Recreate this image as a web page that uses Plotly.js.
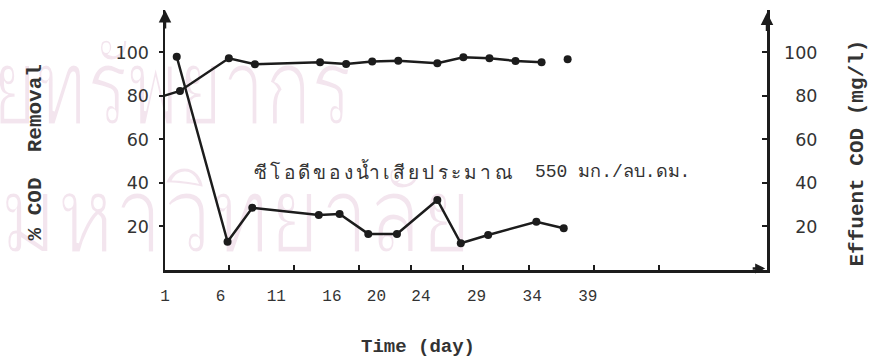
<!DOCTYPE html>
<html>
<head>
<meta charset="utf-8">
<script src="https://cdn.plot.ly/plotly-3.0.1.min.js"></script>
<style>html,body{margin:0;padding:0;background:#fff;}</style>
</head>
<body>
<div id="chart" style="width:874px;height:358px;"></div>
<script>
// ---- data ----
const removalDays = [1, 2.25, 6, 8, 13, 15, 17, 19, 22, 24, 26, 28, 30];
const removalPct  = [80, 82.3, 97.3, 94.6, 95.5, 94.7, 95.8, 96.2, 95.0, 97.8, 97.3, 96.1, 95.5];
const removalLoneDay = [32];
const removalLonePct = [96.9];
const effluentDays = [2, 5.9, 7.8, 12.9, 14.5, 16.7, 18.9, 22, 23.8, 25.9, 29.6, 31.7];
const effluentCod  = [98, 13, 28.6, 25.3, 25.7, 16.6, 16.6, 32.2, 12.3, 16.1, 22.2, 19.2];
const dayTicks = [1, 6, 11, 16, 20, 24, 29, 34, 39];
const dayTickLabels = ['1', '6', '11', '16', '20', '24', '29', '34', '39'];
const yTicks = [20, 40, 60, 80, 100];
const yTickLabels = ['20', '40', '60', '80', '100'];
const xTitle = 'Time (day)';
const yLeftTitle = '% COD\u00a0 Removal';
const yRightTitle = 'Effuent COD (mg/l)';
const noteThai = 'ซีโอดีของน้ำเสียประมาณ';
const noteValue = '550 มก./ลบ.ดม.';
const watermarkTop = 'ยทรัพยากร';
const watermarkBottom = 'มหาวิทยาลัย';

const ink = '#1c1c1c';
const textInk = '#333';
const markerSizes = removalDays.map((d, i) => i === 0 ? 0 : 8);

const traces = [
  {x: removalDays, y: removalPct, type: 'scatter', mode: 'lines+markers',
   line: {color: ink, width: 2.5}, marker: {color: ink, size: markerSizes, opacity: 1, line: {width: 0}},
   xaxis: 'x', yaxis: 'y', showlegend: false, hoverinfo: 'skip'},
  {x: removalLoneDay, y: removalLonePct, type: 'scatter', mode: 'markers',
   marker: {color: ink, size: 8}, xaxis: 'x', yaxis: 'y', showlegend: false, hoverinfo: 'skip'},
  {x: effluentDays, y: effluentCod, type: 'scatter', mode: 'lines+markers',
   line: {color: ink, width: 2.5}, marker: {color: ink, size: 8},
   xaxis: 'x', yaxis: 'y2', showlegend: false, hoverinfo: 'skip'},
  // carrier for the printed day-label axis (draws nothing)
  {x: dayTicks, y: dayTicks.map(() => null), type: 'scatter', mode: 'markers',
   xaxis: 'x2', yaxis: 'y', showlegend: false, hoverinfo: 'skip'}
];

const figSpace = '\u2007';
const rightLabels = yTickLabels.map(s => s.length < 3 ? figSpace + s : s);

// faint library watermark of the scanned page, drawn beneath everything
const wmSvg =
  '<svg xmlns="http://www.w3.org/2000/svg" width="874" height="358" viewBox="0 0 874 358">' +
  '<g fill="#f3e5ee" stroke="#ffffff" stroke-width="3" font-family="Noto Sans, DejaVu Sans, sans-serif" font-size="106">' +
  '<text x="-8" y="124" textLength="360" lengthAdjust="spacingAndGlyphs">' + watermarkTop + '</text>' +
  '<text x="0" y="252" textLength="472" lengthAdjust="spacingAndGlyphs">' + watermarkBottom + '</text>' +
  '</g></svg>';

const titleFont = {family: 'Liberation Mono', size: 21, color: textInk};

const layout = {
  width: 874, height: 358,
  margin: {l: 165, r: 107, t: 10, b: 88},
  paper_bgcolor: '#ffffff',
  plot_bgcolor: 'rgba(0,0,0,0)',
  showlegend: false,
  images: [{
    source: 'data:image/svg+xml;charset=utf-8,' + encodeURIComponent(wmSvg),
    xref: 'paper', yref: 'paper', x: -165 / 602, y: 1 + 10 / 260,
    sizex: 874 / 602, sizey: 358 / 260, xanchor: 'left', yanchor: 'top',
    sizing: 'stretch', layer: 'below'
  }],
  xaxis: {
    range: [1.1, 47.3], tickvals: dayTicks, showticklabels: false,
    ticks: 'inside', ticklen: 5, tickwidth: 2, tickcolor: ink,
    showline: true, linecolor: ink, linewidth: 2.5,
    showgrid: false, zeroline: false
  },
  xaxis2: {
    overlaying: 'x', side: 'bottom', range: [1, 55.1],
    tickvals: dayTicks, ticktext: dayTickLabels,
    ticks: '', showline: false, showgrid: false, zeroline: false,
    ticklabelstandoff: 14,
    tickfont: {family: 'Liberation Mono', size: 16, color: textInk}
  },
  yaxis: {
    range: [0, 119.5], tickvals: yTicks, ticktext: yTickLabels,
    ticks: 'outside', ticklen: 4, tickwidth: 2, tickcolor: ink,
    showline: true, linecolor: ink, linewidth: 2.5,
    showgrid: false, zeroline: false, ticklabelstandoff: 6,
    tickfont: {family: 'DejaVu Sans', size: 17.5, color: textInk}
  },
  yaxis2: {
    overlaying: 'y', side: 'right', range: [0, 119.5],
    tickvals: yTicks, ticktext: rightLabels,
    ticks: 'inside', ticklen: 5, tickwidth: 2, tickcolor: ink,
    showline: true, linecolor: ink, linewidth: 2.5,
    showgrid: false, zeroline: false, ticklabelstandoff: 11,
    tickfont: {family: 'DejaVu Sans', size: 17.5, color: textInk}
  },
  annotations: [
    {xref: 'paper', yref: 'paper', x: (418 - 165) / 602, y: (270 - 347) / 260,
     xanchor: 'center', yanchor: 'middle', text: '<b>' + xTitle + '</b>', showarrow: false,
     font: {family: 'Liberation Mono', size: 19, color: textInk}},
    {xref: 'paper', yref: 'paper', x: (35 - 165) / 602, y: (270 - 152.5) / 260,
     xanchor: 'center', yanchor: 'middle', textangle: -90, text: '<b>' + yLeftTitle + '</b>',
     showarrow: false, font: titleFont},
    {xref: 'paper', yref: 'paper', x: (857 - 165) / 602, y: (270 - 153.5) / 260,
     xanchor: 'center', yanchor: 'middle', textangle: -90, text: '<b>' + yRightTitle + '</b>',
     showarrow: false, font: titleFont},
    {xref: 'paper', yref: 'paper', x: 0.366, y: 0.377, xanchor: 'center', yanchor: 'middle',
     text: noteThai, showarrow: false,
     font: {family: 'Liberation Mono, sans-serif', size: 19, color: textInk}},
    {xref: 'paper', yref: 'paper', x: 0.611, y: 0.377, xanchor: 'left', yanchor: 'middle',
     text: noteValue, showarrow: false,
     font: {family: 'Liberation Mono, sans-serif', size: 18, color: textInk}},
    // axis arrowheads
    {xref: 'paper', yref: 'paper', x: 0, y: 1, ax: 0, ay: 20, text: '', showarrow: true,
     arrowhead: 2, arrowsize: 1, arrowwidth: 2.5, arrowcolor: ink},
    {xref: 'paper', yref: 'paper', x: 1, y: 0.99, ax: 0, ay: 20, text: '', showarrow: true,
     arrowhead: 2, arrowsize: 1, arrowwidth: 2.5, arrowcolor: ink},
    {xref: 'paper', yref: 'paper', x: 0.997, y: 0.006, ax: -14, ay: 0, text: '', showarrow: true,
     arrowhead: 2, arrowsize: 0.8, arrowwidth: 2.5, arrowcolor: ink}
  ]
};

Plotly.newPlot('chart', traces, layout, {staticPlot: true, displayModeBar: false}).then(() => {
  // the typewritten Thai note is set wide on the page
  const notes = document.querySelectorAll('#chart .annotation-text');
  notes.forEach(n => { if (n.textContent === noteThai) n.style.letterSpacing = '3.3px'; });
});
</script>
</body>
</html>
